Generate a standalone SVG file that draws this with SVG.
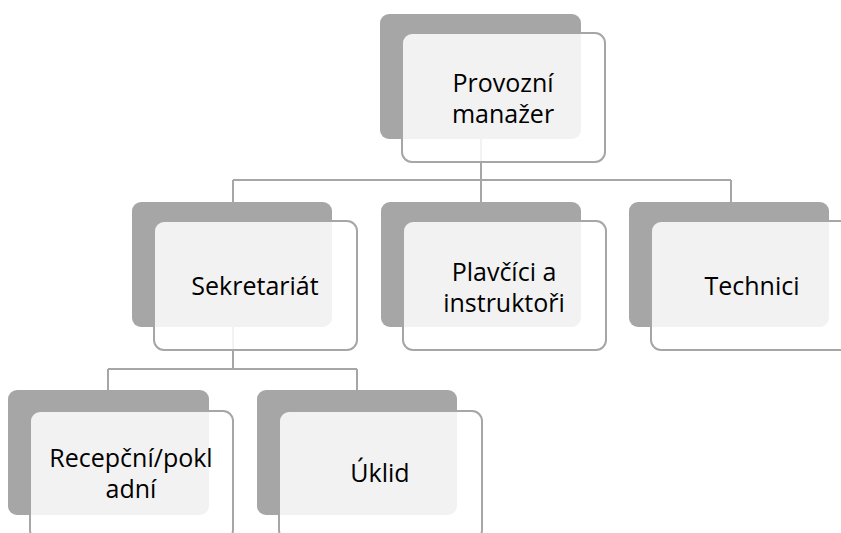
<svg xmlns="http://www.w3.org/2000/svg" width="841" height="533" viewBox="0 0 841 533">
<style>
.back{fill:#a6a6a6}
.front{fill:#ffffff;fill-opacity:0.86;stroke:#a6a6a6;stroke-width:2}
.lbl{font-family:"Open Sans","Liberation Sans",Arial,sans-serif;font-size:25px;fill:#000;text-anchor:middle}
.conn{fill:none;stroke:#a6a6a6;stroke-width:2}
</style>
<rect width="841" height="533" fill="#ffffff"/>
<g id="connectors">
<path class="conn" d="M481,139 V180 M233,180 H731 M233,180 V202 M481,180 V202 M731,180 V202"/>
<path class="conn" d="M233,327 V369 M108,369 H357 M108,369 V390 M357,369 V390"/>
</g>
<g id="provozni">
<rect class="back" x="380" y="14" width="201" height="125" rx="9"/>
<rect class="front" x="402" y="33" width="203" height="129" rx="10"/>
<text class="lbl" x="503" y="92">Provozní</text>
<text class="lbl" x="503" y="123">manažer</text>
</g>
<g id="sekretariat">
<rect class="back" x="132" y="202" width="200" height="125" rx="9"/>
<rect class="front" x="154" y="221" width="203" height="129" rx="10"/>
<text class="lbl" x="255" y="295">Sekretariát</text>
</g>
<g id="plavcici">
<rect class="back" x="381" y="202" width="200" height="125" rx="9"/>
<rect class="front" x="403" y="221" width="203" height="129" rx="10"/>
<text class="lbl" x="504" y="281">Plavčíci a</text>
<text class="lbl" x="504" y="312">instruktoři</text>
</g>
<g id="technici">
<rect class="back" x="629" y="202" width="200" height="125" rx="9"/>
<rect class="front" x="651" y="221" width="203" height="129" rx="10"/>
<text class="lbl" x="752" y="295">Technici</text>
</g>
<g id="recepcni">
<rect class="back" x="8" y="390" width="201" height="125" rx="9"/>
<rect class="front" x="30" y="411" width="203" height="129" rx="10"/>
<text class="lbl" x="131" y="467">Recepční/pokl</text>
<text class="lbl" x="131" y="498">adní</text>
</g>
<g id="uklid">
<rect class="back" x="257" y="390" width="200" height="125" rx="9"/>
<rect class="front" x="279" y="411" width="203" height="129" rx="10"/>
<text class="lbl" x="380" y="482">Úklid</text>
</g>
</svg>
